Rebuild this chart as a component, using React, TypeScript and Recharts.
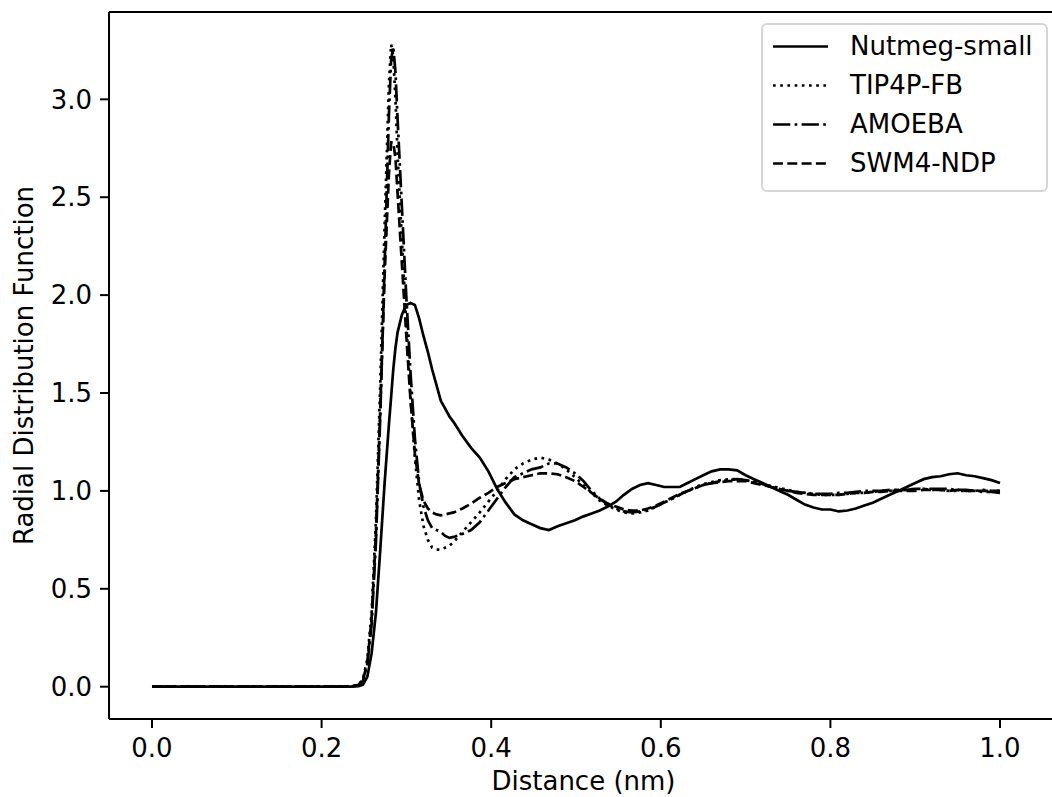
import { LineChart, Line, XAxis, YAxis, ReferenceLine } from "recharts";

// distance (nm), shared by every series
const distance = [
  0, 0.101, 0.203, 0.2335, 0.2437, 0.2488, 0.2539, 0.259, 0.2641, 0.2692, 0.2743, 0.2794, 0.282, 0.2845, 0.2871, 0.2896,
  0.2947, 0.2998, 0.3049, 0.31, 0.3151, 0.3202, 0.3253, 0.3304, 0.3355, 0.3406, 0.3457, 0.3508, 0.3559,
  0.3661, 0.3763, 0.3865, 0.3967, 0.4069, 0.4171, 0.4273, 0.4375, 0.4477, 0.4579,
  0.4681, 0.4783, 0.4885, 0.4987, 0.5089, 0.5185, 0.528, 0.5375, 0.547, 0.5565,
  0.566, 0.5755, 0.585, 0.5945, 0.604, 0.6132, 0.6224, 0.6316, 0.6408, 0.65,
  0.66, 0.67, 0.68, 0.69, 0.7, 0.71, 0.72, 0.73, 0.74, 0.75,
  0.76, 0.77, 0.78, 0.79, 0.8, 0.81, 0.82, 0.83, 0.84, 0.85,
  0.86, 0.87, 0.88, 0.89, 0.9, 0.91, 0.92, 0.93, 0.94, 0.95,
  0.96, 0.97, 0.98, 0.99, 1.0,
];

const nutmegSmall = [
  0, 0, 0, 0, 0.003, 0.01, 0.05, 0.17, 0.38, 0.7, 1.04, 1.34, 1.48, 1.62, 1.73, 1.81,
  1.9, 1.95, 1.96, 1.95, 1.88, 1.79, 1.71, 1.62, 1.54, 1.46, 1.42, 1.38, 1.35,
  1.28, 1.22, 1.17, 1.1, 1.01, 0.94, 0.88, 0.85, 0.83, 0.81,
  0.8, 0.82, 0.835, 0.85, 0.87, 0.885, 0.9, 0.92, 0.945, 0.98,
  1.01, 1.03, 1.04, 1.03, 1.02, 1.02, 1.02, 1.04, 1.06, 1.08,
  1.1, 1.11, 1.11, 1.105, 1.08, 1.06, 1.04, 1.02, 1.0, 0.98,
  0.955, 0.93, 0.915, 0.905, 0.905, 0.895, 0.9, 0.91, 0.925, 0.94,
  0.96, 0.98, 1.0, 1.02, 1.04, 1.06, 1.07, 1.075, 1.085, 1.09,
  1.08, 1.075, 1.065, 1.055, 1.04,
];

const tip4pFb = [
  0, 0, 0, 0, 0.01, 0.04, 0.14, 0.38, 0.85, 1.55, 2.35, 3.08, 3.28, 3.22, 3.0, 2.72,
  2.28, 1.86, 1.48, 1.17, 0.95, 0.82, 0.75, 0.71, 0.7, 0.7, 0.71, 0.72, 0.74,
  0.79, 0.84, 0.89, 0.945, 1.0, 1.06, 1.11, 1.14, 1.16, 1.17,
  1.16, 1.14, 1.11, 1.07, 1.03, 0.99, 0.95, 0.925, 0.905, 0.89,
  0.885, 0.89, 0.9, 0.92, 0.94, 0.96, 0.98, 1.0, 1.02, 1.035,
  1.045, 1.055, 1.06, 1.06, 1.055, 1.045, 1.035, 1.025, 1.015, 1.005,
  0.995, 0.99, 0.985, 0.98, 0.98, 0.98, 0.985, 0.99, 0.99, 0.995,
  1.0, 1.0, 1.005, 1.005, 1.01, 1.01, 1.005, 1.005, 1.0, 1.0,
  1.0, 1.0, 1.005, 1.0, 1.0,
];

const amoeba = [
  0, 0, 0, 0, 0.008, 0.03, 0.11, 0.32, 0.74, 1.38, 2.15, 2.92, 3.2, 3.27, 3.14, 2.9,
  2.45, 2.0, 1.6, 1.27, 1.04, 0.92, 0.85, 0.81, 0.8, 0.79, 0.77, 0.76, 0.765,
  0.78, 0.8, 0.84, 0.9, 0.96, 1.02, 1.07, 1.09, 1.11, 1.12,
  1.14, 1.14, 1.12, 1.09, 1.05, 1.0, 0.96, 0.93, 0.91, 0.895,
  0.89, 0.895, 0.905, 0.92, 0.94, 0.96, 0.98, 1.0, 1.015, 1.03,
  1.04, 1.05, 1.055, 1.06, 1.055, 1.045, 1.035, 1.02, 1.01, 1.0,
  0.995, 0.99, 0.985, 0.985, 0.985, 0.99, 0.99, 0.995, 1.0, 1.0,
  1.0, 1.005, 1.005, 1.005, 1.01, 1.01, 1.01, 1.01, 1.01, 1.005,
  1.005, 1.0, 0.995, 0.995, 0.99,
];

const swm4Ndp = [
  0, 0, 0, 0, 0.01, 0.035, 0.12, 0.35, 0.78, 1.42, 2.1, 2.62, 2.78, 2.78, 2.7, 2.52,
  2.16, 1.8, 1.46, 1.19, 1.03, 0.95, 0.91, 0.89, 0.88, 0.875, 0.88, 0.885, 0.89,
  0.91, 0.935, 0.965, 0.99, 1.02, 1.04, 1.06, 1.07, 1.08, 1.09,
  1.09, 1.085, 1.07, 1.05, 1.02, 0.99, 0.96, 0.935, 0.92, 0.905,
  0.9, 0.9, 0.91, 0.925, 0.945, 0.965, 0.985, 1.0, 1.015, 1.03,
  1.04, 1.045, 1.05, 1.05, 1.05, 1.04, 1.03, 1.02, 1.01, 1.0,
  0.99, 0.985, 0.98, 0.98, 0.98, 0.98, 0.985, 0.99, 0.99, 0.995,
  0.995, 1.0, 1.0, 1.0, 1.0, 1.005, 1.005, 1.005, 1.0, 1.005,
  1.0, 1.0, 1.0, 1.0, 1.0,
];

const xTicks = [0, 0.2, 0.4, 0.6, 0.8, 1.0];
const yTicks = [0, 0.5, 1.0, 1.5, 2.0, 2.5, 3.0];

const X_DOMAIN: [number, number] = [-0.0507, 1.0684];
const Y_DOMAIN: [number, number] = [-0.165, 3.446];

const FONT = "DejaVu Sans";

const SERIES = [
  { key: "nutmeg", name: "Nutmeg-small", dash: undefined },
  { key: "tip4p", name: "TIP4P-FB", dash: "2.7 4.5" },
  { key: "amoeba", name: "AMOEBA", dash: "17.3 4.3 2.7 4.3" },
  { key: "swm4", name: "SWM4-NDP", dash: "10 4.3" },
];

const chartData = distance.map((d, i) => ({
  distance: d,
  nutmeg: nutmegSmall[i],
  tip4p: tip4pFb[i],
  amoeba: amoeba[i],
  swm4: swm4Ndp[i],
}));

// matplotlib style legend box, drawn over the plot
const LegendBox = () => (
  <svg width={287} height={169} style={{ display: "block" }}>
    <rect x={1} y={1} width={285} height={167} rx={5} fill="#fff" fillOpacity={0.8} stroke="#d5d5d5" strokeWidth={2} />
    {SERIES.map((s, i) => {
      const cy = 23.5 + i * 39;
      return (
        <g key={s.key}>
          <line x1={12} x2={67} y1={cy} y2={cy} stroke="#000" strokeWidth={2.7} strokeDasharray={s.dash} />
          <text x={89} y={cy + 8} fontSize={26} fontFamily={FONT} fill="#000">
            {s.name}
          </text>
        </g>
      );
    })}
  </svg>
);

export default function App() {
  return (
    <div style={{ position: "absolute", left: 0, top: 0, width: 1052, height: 797, overflow: "hidden", background: "#fff" }}>
      <LineChart width={1060} height={797} data={chartData} margin={{ top: 12, right: 2, bottom: 0, left: 0 }}>
        <XAxis
          dataKey="distance"
          type="number"
          domain={X_DOMAIN}
          allowDataOverflow
          ticks={xTicks}
          tickFormatter={(v: number) => v.toFixed(1)}
          height={78}
          tickSize={9}
          tickMargin={11}
          stroke="#000"
          strokeWidth={2}
          tick={{ fill: "#000", fontSize: 26, fontFamily: FONT }}
          label={{ value: "Distance (nm)", position: "insideBottom", offset: 7, fill: "#000", fontSize: 26, fontFamily: FONT }}
        />
        <YAxis
          type="number"
          domain={Y_DOMAIN}
          allowDataOverflow
          ticks={yTicks}
          tickFormatter={(v: number) => v.toFixed(1)}
          width={109}
          tickSize={9}
          tickMargin={8}
          stroke="#000"
          strokeWidth={2}
          tick={{ fill: "#000", fontSize: 26, fontFamily: FONT }}
          label={{
            value: "Radial Distribution Function",
            angle: -90,
            position: "insideLeft",
            offset: 24,
            fill: "#000",
            fontSize: 26,
            fontFamily: FONT,
            style: { textAnchor: "middle" },
          }}
        />
        <ReferenceLine y={Y_DOMAIN[1]} stroke="#000" strokeWidth={2} />
        <ReferenceLine x={X_DOMAIN[1]} stroke="#000" strokeWidth={2} />
        {SERIES.map((s) => (
          <Line
            key={s.key}
            dataKey={s.key}
            name={s.name}
            type="linear"
            stroke="#000"
            strokeWidth={2.7}
            strokeDasharray={s.dash}
            dot={false}
            activeDot={false}
            isAnimationActive={false}
          />
        ))}
      </LineChart>
      <div style={{ position: "absolute", left: 761, top: 23 }}>
        <LegendBox />
      </div>
    </div>
  );
}
